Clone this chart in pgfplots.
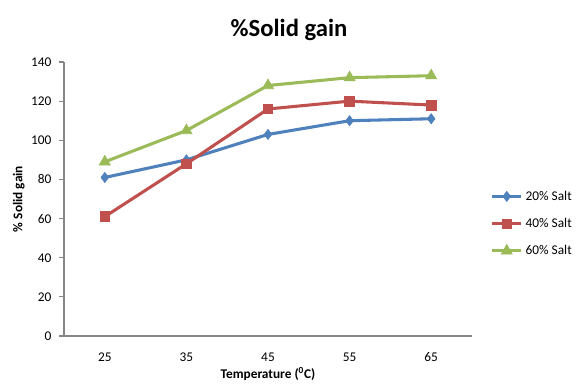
\documentclass[border=0pt]{standalone}
\usepackage{fontspec}
\setmainfont{Carlito}
\usepackage{pgfplots}
\pgfplotsset{compat=1.18}

\definecolor{s20}{HTML}{4F81BD}
\definecolor{s40}{HTML}{C0504D}
\definecolor{s60}{HTML}{9BBB59}
\definecolor{axgray}{HTML}{868686}

\begin{document}
\begin{tikzpicture}[x=0.75pt,y=0.75pt]
\useasboundingbox (0,0) rectangle (577,383);
\node[font=\fontsize{18.5}{22}\selectfont\bfseries] at (289,353) {\%Solid gain};
\begin{axis}[
  at={(48pt,35.25pt)}, anchor=south west,
  scale only axis, width=306pt, height=205.5pt,
  xmin=-0.5, xmax=4.5, ymin=0, ymax=140,
  xtick={0,1,2,3,4}, xticklabels={25,35,45,55,65},
  ytick={0,20,...,140},
  axis x line*=bottom, axis y line*=left,
  axis line style={axgray, line width=0.8pt, -},
  x axis line style={-}, y axis line style={-},
  major x tick style={draw=none},
  major y tick style={axgray, line width=0.8pt},
  tick align=outside, major tick length=4pt,
  /pgf/number format/assume math mode=true,
  ticklabel style={font=\fontsize{10}{12}\selectfont},
  xticklabel style={yshift=-5pt},
  yticklabel style={xshift=-2pt},
  xlabel={\textbf{Temperature (\textsuperscript{0}C)}},
  ylabel={\textbf{\% Solid gain}},
  label style={font=\fontsize{10}{12}\selectfont},
  xlabel style={yshift=2.5pt},
  ylabel style={yshift=-2pt},
  legend style={at={(1.035,0.41)}, anchor=west, draw=none, fill=none,
    font=\fontsize{10}{12}\selectfont, row sep=8pt,
    /tikz/every even column/.append style={column sep=0pt}},
  legend cell align=left,
  legend image code/.code={%
    \draw[mark repeat=2,mark phase=2] plot coordinates {(0pt,0pt) (11pt,0pt) (22pt,0pt)};},
  every axis plot/.append style={line width=2.3pt},
  clip=false,
]
\addplot[s20, mark=diamond*, mark size=3.8pt, mark options={solid, line width=0.5pt}]
  coordinates {(0,81) (1,90) (2,103) (3,110) (4,111)};
\addlegendentry{20\% Salt}
\addplot[s40, mark=square*, mark size=3.6pt, mark options={solid, line width=0.5pt}]
  coordinates {(0,61) (1,88) (2,116) (3,120) (4,118)};
\addlegendentry{40\% Salt}
\addplot[s60, mark=triangle*, mark size=4.8pt, mark options={solid, line width=0.5pt}]
  coordinates {(0,89) (1,105) (2,128) (3,132) (4,133)};
\addlegendentry{60\% Salt}
\end{axis}
\end{tikzpicture}
\end{document}
